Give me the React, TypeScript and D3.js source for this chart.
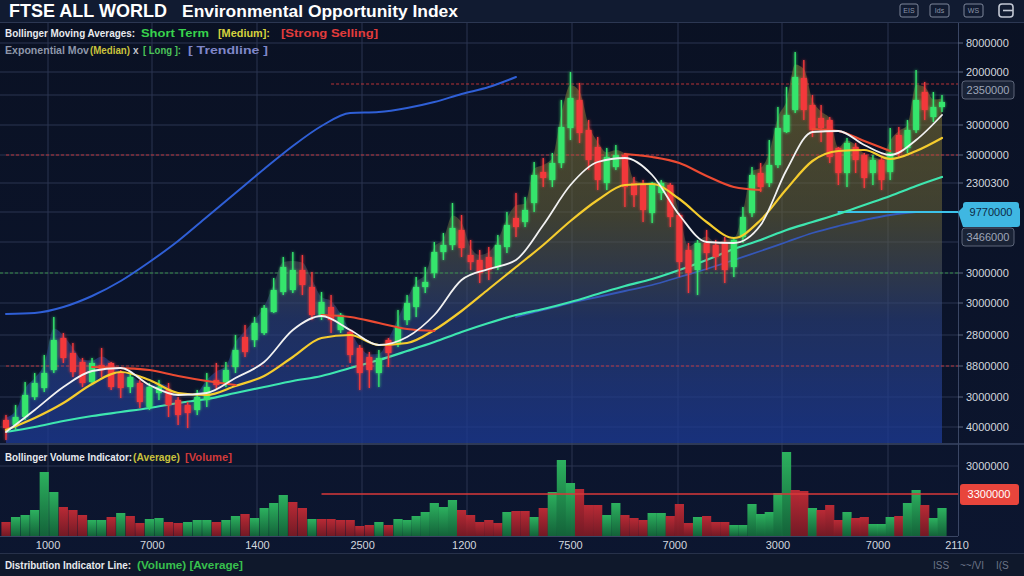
import React from "react";
import * as d3 from "d3";

// ---------- DATA ----------
const candleOpen = [
  23, 18, 26, 46, 55, 73, 105, 90, 81, 61,
  78, 80, 70, 56, 60, 36, 50, 53, 43, 38,
  33, 43, 63, 60, 76, 106, 103, 110, 131, 151,
  153, 173, 156, 128, 136, 113, 111, 95, 86, 70,
  103, 100, 123, 136, 156, 170, 191, 198, 213, 188,
  183, 186, 176, 196, 225, 221, 240, 271, 263, 280,
  315, 343, 313, 296, 260, 276, 288, 260, 258, 230,
  250, 258, 228, 193, 173, 200, 198, 200, 176, 206,
  230, 270, 260, 278, 311, 333, 365, 338, 325, 323,
  295, 270, 296, 288, 270, 283, 271, 308, 295, 313,
  351, 326, 336,
];
const candleHigh = [
  28, 38, 61, 70, 88, 126, 110, 100, 85, 85,
  95, 81, 73, 70, 63, 60, 63, 60, 46, 41,
  53, 70, 80, 81, 108, 118, 126, 138, 165, 186,
  191, 188, 171, 151, 148, 130, 113, 98, 91, 93,
  105, 133, 148, 166, 176, 201, 210, 240, 228, 203,
  193, 196, 208, 231, 250, 246, 281, 285, 290, 343,
  371, 360, 323, 306, 295, 298, 290, 266, 263, 261,
  263, 260, 230, 200, 203, 213, 203, 206, 206, 236,
  276, 280, 303, 336, 356, 391, 383, 348, 338, 326,
  296, 305, 300, 290, 288, 285, 315, 316, 323, 373,
  361, 351, 348,
];
const candleLow = [
  3, 13, 23, 43, 51, 70, 80, 66, 56, 58,
  66, 53, 45, 50, 35, 33, 43, 26, 18, 15,
  28, 36, 53, 56, 70, 86, 96, 108, 130, 148,
  150, 148, 123, 123, 110, 110, 80, 53, 55, 56,
  76, 96, 118, 126, 150, 165, 183, 193, 186, 173,
  160, 163, 173, 190, 206, 216, 231, 256, 256, 275,
  303, 300, 273, 253, 253, 273, 236, 236, 221, 220,
  243, 216, 166, 150, 148, 173, 173, 160, 166, 200,
  226, 251, 256, 275, 310, 330, 323, 306, 301, 280,
  258, 256, 270, 255, 258, 253, 263, 286, 290, 310,
  323, 321, 331,
];
const candleClose = [
  15, 26, 48, 60, 70, 103, 85, 71, 60, 80,
  73, 56, 55, 66, 41, 56, 56, 38, 28, 30,
  46, 56, 58, 73, 93, 91, 120, 135, 153, 176,
  173, 158, 128, 141, 123, 128, 88, 70, 73, 85,
  90, 116, 140, 156, 161, 191, 198, 215, 195, 181,
  170, 173, 198, 218, 216, 233, 268, 265, 280, 316,
  345, 310, 283, 263, 286, 288, 256, 248, 233, 260,
  260, 226, 181, 170, 200, 190, 186, 173, 203, 226,
  268, 256, 278, 315, 328, 366, 333, 313, 315, 286,
  270, 300, 283, 265, 283, 263, 290, 290, 313, 343,
  333, 336, 341,
];

const volumeValues = [
  14, 19, 21, 26, 64, 44, 29, 26, 21, 16,
  16, 19, 23, 20, 13, 17, 18, 14, 13, 14,
  16, 16, 14, 16, 20, 22, 18, 28, 33, 41,
  34, 28, 17, 17, 17, 16, 16, 10, 11, 14,
  11, 17, 16, 20, 24, 33, 29, 36, 26, 21,
  14, 16, 13, 24, 25, 25, 19, 28, 44, 76,
  53, 47, 31, 31, 21, 33, 21, 18, 16, 23,
  23, 20, 32, 13, 19, 20, 14, 14, 11, 11,
  32, 22, 24, 43, 84, 46, 45, 28, 26, 31,
  16, 24, 18, 19, 12, 12, 19, 20, 33, 46,
  31, 18, 28,
];
const volumeUp = [
  0, 1, 1, 1, 1, 1, 0, 0, 0, 1,
  1, 0, 1, 0, 0, 1, 1, 0, 0, 1,
  1, 1, 0, 1, 1, 0, 1, 1, 1, 1,
  0, 0, 1, 0, 0, 0, 0, 0, 0, 1,
  0, 1, 1, 1, 1, 1, 1, 1, 0, 0,
  0, 0, 0, 1, 0, 0, 1, 0, 1, 1,
  1, 0, 0, 0, 1, 1, 0, 0, 0, 1,
  1, 0, 0, 0, 1, 0, 0, 0, 1, 1,
  1, 1, 1, 1, 1, 0, 0, 1, 0, 0,
  0, 1, 0, 0, 1, 1, 1, 0, 1, 1,
  0, 1, 1,
];

const maIndex = [
  0, 3, 6, 9, 12, 15, 18, 21, 24, 27, 30, 33, 36, 39, 42, 45, 48, 51,
  54, 57, 60, 63, 66, 69, 72, 75, 78, 81, 84, 87, 90, 93, 96, 99, 102,
];
const maWhite = [
  11, 33, 56, 72, 75, 58, 48, 50, 65, 81, 113, 127, 113, 98, 106, 128, 163, 174,
  183, 218, 258, 281, 285, 268, 228, 201, 200, 218, 273, 311, 312, 298, 288, 303, 328,
];
const maYellow = [
  13, 25, 40, 59, 71, 63, 50, 48, 57, 67, 86, 105, 108, 98, 100, 113, 132, 154,
  176, 198, 222, 243, 258, 259, 244, 221, 205, 223, 254, 282, 292, 293, 284, 292, 305,
];
const maRed: (number | null)[] = [
  null, null, null, 76, 75, 73, 67, 62, 58, null, null, 128, 126, 120, 114, 112, null, null,
  null, null, null, null, 289, 286, 280, 267, 256, 253, null, 314, 312, 302, 292, null, null,
];
const maTeal = [
  11, 16, 22, 27, 31, 35, 40, 44, 50, 56, 62, 67, 75, 83, 92, 101, 111, 120,
  128, 134, 141, 149, 157, 164, 173, 183, 194, 203, 213, 221, 229, 238, 247, 257, 266,
];
const bandUpper: (number | null)[] = [
  129, 130, 136, 147, 162, 181, 202, 226, 250, 274, 297, 317, 330, 331, 335, 341, 349, 356,
  366, null, null, null, null, null, null, null, null, null, null, null, null, null, null, null, null,
];
const bandLower: (number | null)[] = [
  null, null, null, null, null, null, null, null, null, null, null, null, null, null, null, null, null, null,
  126, 133, 140, 146, 152, 158, 166, 174, 183, 192, 201, 210, 217, 223, 228, 231, null,
];

const priceTicks = [400, 371, 348, 318, 288, 260, 231, 201, 170, 140, 108, 77, 46, 16];
const priceLabels: [number, string][] = [
  [400, "8000000"], [371, "2000000"], [318, "3000000"], [288, "3000000"], [260, "2300300"],
  [170, "3000000"], [140, "3000000"], [108, "2800000"], [77, "8800000"], [46, "3000000"], [16, "4000000"],
];
const priceBoxes: [number, string][] = [[353, "2350000"], [206, "3466000"]];
const lastPriceMarker = { value: 231, label: "9770000", fromIndex: 90 };
const redLevels = [{ v: 359, from: 34 }, { v: 288, from: 0 }, { v: 77, from: 0 }];
const greenLevels = [170];

const xTickIdx = [4.4, 15.3, 26.3, 37.3, 48.3, 60, 71.5, 83, 94.6];
const xTickLabels = ["1000", "7000", "1400", "2500", "1200", "7500", "7000", "3000", "7000"];
const xEndLabel = "2110";

const volGridValue = 70;
const volGridLabel = "3000000";
const volLevel = { value: 42, label: "3300000", fromIndex: 33 };

// ---------- COMPONENT ----------
const W = 1024;
const H = 576;
const FONT = "'Liberation Sans', Arial, sans-serif";
const UP = "#34e56c";
const DOWN = "#f2393b";

export default function App() {
  const x = d3.scaleLinear().domain([0, 41, 80, 102]).range([6, 398, 752, 942]);
  const y = d3.scaleLinear().domain([0, 400]).range([443, 43]);
  const yv = d3.scaleLinear().domain([0, 90]).range([536, 446]);

  const plotL = 0;
  const plotR = 958;

  const line = d3
    .line<[number, number | null]>()
    .defined((d) => d[1] != null)
    .x((d) => x(d[0]))
    .y((d) => y(d[1] as number))
    .curve(d3.curveMonotoneX);

  const pairs = (vals: (number | null)[]) =>
    maIndex.map((i, k) => [i, vals[k]] as [number, number | null]);

  const areaTop = candleOpen.map((o, i) => (Math.max(o, candleClose[i]) + candleHigh[i]) / 2);
  const area = d3
    .area<number>()
    .x((_, i) => x(i))
    .y0(y(0))
    .y1((d) => y(d))
    .curve(d3.curveMonotoneX);

  const vGrid = [48, 152, 257, 362, 467, 572, 678, 782, 888];

  return (
    <div style={{ position: "fixed", left: 0, top: 0, width: W, height: H }}>
      <svg width={W} height={H} viewBox={`0 0 ${W} ${H}`} style={{ display: "block" }}>
        <defs>
          <linearGradient id="bg" x1="0" y1="0" x2="0" y2="1">
            <stop offset="0" stopColor="#0a1123" />
            <stop offset="1" stopColor="#0c1630" />
          </linearGradient>
          <linearGradient id="areaFill" gradientUnits="userSpaceOnUse" x1="0" y1="60" x2="0" y2="443">
            <stop offset="0" stopColor="#8a7a30" stopOpacity="0.55" />
            <stop offset="0.4" stopColor="#6a6538" stopOpacity="0.55" />
            <stop offset="0.68" stopColor="#2c4280" stopOpacity="0.6" />
            <stop offset="1" stopColor="#1c3a96" stopOpacity="0.75" />
          </linearGradient>
          <linearGradient id="volUp" x1="0" y1="0" x2="0" y2="1">
            <stop offset="0" stopColor="#2fbf63" />
            <stop offset="1" stopColor="#14693a" />
          </linearGradient>
          <linearGradient id="volDown" x1="0" y1="0" x2="0" y2="1">
            <stop offset="0" stopColor="#c82c36" />
            <stop offset="1" stopColor="#7c1a24" />
          </linearGradient>
          <filter id="glow" x="-50%" y="-50%" width="200%" height="200%">
            <feGaussianBlur stdDeviation="1.6" result="b" />
            <feMerge>
              <feMergeNode in="b" />
              <feMergeNode in="SourceGraphic" />
            </feMerge>
          </filter>
          <clipPath id="plotClip">
            <rect x={0} y={23} width={plotR} height={421} />
          </clipPath>
        </defs>

        {/* backgrounds */}
        <rect x={0} y={0} width={W} height={H} fill="url(#bg)" />
        <rect x={0} y={0} width={W} height={22} fill="#111b31" />
        <line x1={0} x2={W} y1={22.5} y2={22.5} stroke="#2c3752" />
        <rect x={0} y={553} width={W} height={23} fill="#0f182b" />
        <line x1={0} x2={W} y1={553.5} y2={553.5} stroke="#27314a" />

        {/* grid */}
        {priceTicks.map((t) => (
          <line key={"hg" + t} x1={plotL} x2={plotR} y1={y(t)} y2={y(t)} stroke="#2a3450" strokeWidth={1} />
        ))}
        {vGrid.map((gx) => (
          <line key={"vg" + gx} x1={gx} x2={gx} y1={23} y2={536} stroke="#2a3450" strokeWidth={1} />
        ))}
        <line x1={plotL} x2={plotR} y1={yv(volGridValue)} y2={yv(volGridValue)} stroke="#2a3450" />

        {/* area */}
        <path d={area(areaTop) || ""} fill="url(#areaFill)" clipPath="url(#plotClip)" />

        {/* level lines */}
        {redLevels.map((l) => (
          <line key={"rl" + l.v} x1={x(l.from)} x2={plotR} y1={y(l.v)} y2={y(l.v)} stroke="#d8383a" strokeWidth={1.2} strokeDasharray="3 2" opacity={0.85} />
        ))}
        {greenLevels.map((v) => (
          <line key={"gl" + v} x1={plotL} x2={plotR} y1={y(v)} y2={y(v)} stroke="#3aa04a" strokeWidth={1.2} strokeDasharray="3 2" opacity={0.85} />
        ))}

        {/* bands and averages */}
        <g clipPath="url(#plotClip)" fill="none" strokeLinecap="round">
          <path d={line(pairs(bandUpper)) || ""} stroke="#2f5fd6" strokeWidth={2} />
          <path d={line(pairs(bandLower)) || ""} stroke="#3557b8" strokeWidth={1.8} />
          <line x1={x(lastPriceMarker.fromIndex)} x2={plotR} y1={y(lastPriceMarker.value)} y2={y(lastPriceMarker.value)} stroke="#3cc2ea" strokeWidth={2} />
          <path d={line(pairs(maTeal)) || ""} stroke="#3ee6b0" strokeWidth={2.2} />
        </g>

        {/* candles */}
        <g filter="url(#glow)">
          {candleOpen.map((o, i) => {
            const c = candleClose[i];
            const up = c >= o;
            const col = up ? UP : DOWN;
            const cx = x(i);
            const top = y(Math.max(o, c));
            const bot = y(Math.min(o, c));
            return (
              <g key={"c" + i}>
                <line x1={cx} x2={cx} y1={y(candleHigh[i])} y2={y(candleLow[i])} stroke={col} strokeWidth={1.4} />
                <rect x={cx - 3} y={top} width={6} height={Math.max(1.5, bot - top)} fill={col} />
              </g>
            );
          })}
        </g>

        <g fill="none" strokeLinecap="round">
          <path d={line(pairs(maYellow)) || ""} stroke="#f5cc2e" strokeWidth={2.2} />
          <path d={line(pairs(maRed)) || ""} stroke="#ec4a32" strokeWidth={2.2} />
          <path d={line(pairs(maWhite)) || ""} stroke="#f2f2f2" strokeWidth={1.8} />
        </g>

        {/* volume */}
        {volumeValues.map((v, i) => (
          <rect
            key={"v" + i}
            x={x(i) - 4.6}
            y={yv(v)}
            width={9.2}
            height={yv(0) - yv(v)}
            fill={volumeUp[i] ? "url(#volUp)" : "url(#volDown)"}
            opacity={0.92}
          />
        ))}
        <line x1={x(volLevel.fromIndex)} x2={plotR} y1={yv(volLevel.value)} y2={yv(volLevel.value)} stroke="#d8383a" strokeWidth={1.3} />

        {/* panel frame */}
        <line x1={0} x2={W} y1={444} y2={444} stroke="#3a4664" strokeWidth={1.5} />
        <line x1={0} x2={plotR} y1={536.5} y2={536.5} stroke="#3a4664" />
        <line x1={plotR + 0.5} x2={plotR + 0.5} y1={23} y2={536} stroke="#3a4664" />

        {/* right axis labels */}
        <g fontFamily={FONT} fontSize={11} fill="#d3d7df">
          {priceLabels.map(([v, s]) => (
            <g key={"pl" + v}>
              <line x1={plotR} x2={plotR + 5} y1={y(v)} y2={y(v)} stroke="#5a6680" />
              <text x={966} y={y(v) + 4}>{s}</text>
            </g>
          ))}
          {priceBoxes.map(([v, s]) => (
            <g key={"pb" + v}>
              <rect x={962} y={y(v) - 9} width={52} height={18} rx={3} fill="#1a2336" stroke="#5c6579" />
              <text x={988} y={y(v) + 4} textAnchor="middle" fill="#9ea6b8">{s}</text>
            </g>
          ))}
          <path
            d={`M${plotR},${y(lastPriceMarker.value)} l5,-5 h54 a3,3 0 0 1 3,3 v14 a3,3 0 0 1 -3,3 h-54 z`}
            transform={`translate(0,${-0})`}
            fill="#3fb7e2"
          />
          <rect x={963} y={y(lastPriceMarker.value) - 10} width={56} height={20} rx={3} fill="#3fb7e2" />
          <text x={991} y={y(lastPriceMarker.value) + 4} textAnchor="middle" fill="#0d2a44">{lastPriceMarker.label}</text>

          <text x={966} y={yv(volGridValue) + 4}>{volGridLabel}</text>
          <rect x={960} y={yv(volLevel.value) - 10} width={59} height={21} rx={3} fill="#e8453c" />
          <text x={989} y={yv(volLevel.value) + 4} textAnchor="middle" fill="#ffffff">{volLevel.label}</text>
        </g>

        {/* x axis labels */}
        <g fontFamily={FONT} fontSize={11} fill="#d3d7df" textAnchor="middle">
          {xTickIdx.map((t, k) => (
            <text key={"xt" + k} x={x(t)} y={549}>{xTickLabels[k]}</text>
          ))}
          <text x={957} y={549}>{xEndLabel}</text>
        </g>

        {/* title */}
        <text x={9} y={17} fontFamily={FONT} fontWeight="bold" fontSize={18} fill="#ffffff">
          FTSE ALL WORLD
        </text>
        <text x={182} y={17} fontFamily={FONT} fontWeight="bold" fontSize={17} fill="#ffffff" textLength={276} lengthAdjust="spacingAndGlyphs">
          Environmental Opportunity Index
        </text>

        {/* top-right icons */}
        <g fill="none" stroke="#7e879b" strokeWidth={1}>
          <rect x={900} y={4} width={18} height={13} rx={2} />
          <rect x={930} y={4} width={19} height={13} rx={2} />
          <rect x={964} y={4} width={19} height={13} rx={2} />
          <rect x={999} y={4} width={14} height={13} rx={3} stroke="#c2c8d4" strokeWidth={1.6} />
          <line x1={1003} x2={1013} y1={10.5} y2={10.5} stroke="#c2c8d4" strokeWidth={1.6} />
        </g>
        <g fontFamily={FONT} fontSize={7} fill="#8c95a8" textAnchor="middle">
          <text x={909} y={13}>EIS</text>
          <text x={939.5} y={13}>Ids</text>
          <text x={973.5} y={13}>WS</text>
        </g>

        {/* legends */}
        <g fontFamily={FONT} fontWeight="bold" fontSize={10}>
          <text x={5} y={37} fill="#e8eaee" textLength={130} lengthAdjust="spacingAndGlyphs">Bollinger Moving Averages:</text>
          <text x={141} y={37} fill="#38d24c" textLength={68} lengthAdjust="spacingAndGlyphs">Short Term</text>
          <text x={218} y={37} fill="#d6d23e" textLength={52} lengthAdjust="spacingAndGlyphs">[Medium]:</text>
          <text x={281} y={37} fill="#e23c3c" textLength={97} lengthAdjust="spacingAndGlyphs">[Strong Selling]</text>

          <text x={5} y={54} fill="#8e97aa" textLength={84} lengthAdjust="spacingAndGlyphs">Exponential Mov</text>
          <text x={90} y={54} fill="#c9c23c" textLength={40} lengthAdjust="spacingAndGlyphs">(Median)</text>
          <text x={133} y={54} fill="#c0c4cc">x</text>
          <text x={143} y={54} fill="#4cc45a" textLength={38} lengthAdjust="spacingAndGlyphs">[ Long ]:</text>
          <text x={188} y={54} fill="#7f86c8" textLength={80} lengthAdjust="spacingAndGlyphs">[ Trendline ]</text>

          <text x={5} y={461} fill="#e8eaee" textLength={127} lengthAdjust="spacingAndGlyphs">Bollinger Volume Indicator:</text>
          <text x={133} y={461} fill="#c9c23c" textLength={47} lengthAdjust="spacingAndGlyphs">(Average)</text>
          <text x={185} y={461} fill="#d03a3a" textLength={47} lengthAdjust="spacingAndGlyphs">[Volume]</text>

          <text x={5} y={569} fill="#e8eaee" textLength={126} lengthAdjust="spacingAndGlyphs">Distribution Indicator Line:</text>
          <text x={137} y={569} fill="#38c04e" textLength={106} lengthAdjust="spacingAndGlyphs">(Volume)  [Average]</text>
        </g>

        {/* bottom-right icons */}
        <g fontFamily={FONT} fontSize={10} fill="#6c7588">
          <text x={933} y={569}>ISS</text>
          <text x={960} y={569}>~~/VI</text>
          <text x={996} y={569}>I(S</text>
        </g>
      </svg>
    </div>
  );
}
